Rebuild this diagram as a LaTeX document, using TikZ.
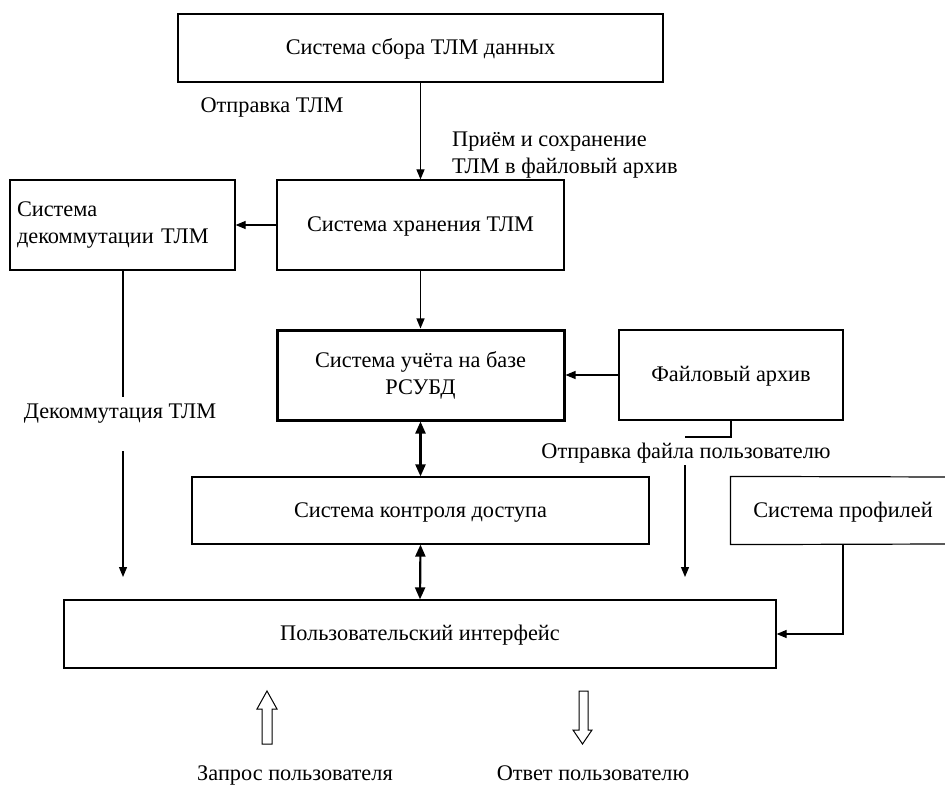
\documentclass[tikz,border=0pt]{standalone}
\usepackage{fontspec}
\setmainfont{Liberation Serif}
\usetikzlibrary{arrows.meta}
\begin{document}
\begin{tikzpicture}[x=1pt,y=-1pt,
  every node/.style={font=\fontsize{22.3}{27}\selectfont},
  box/.style={draw, line width=1.2pt, rectangle, inner sep=0pt, align=center, text height=16pt, text depth=2.2pt},
  multi/.style={text height=, text depth=},
  lbl/.style={inner sep=0pt, align=center, text height=16pt, text depth=2.2pt},
  conn/.style={line width=1.2pt, -{Triangle[length=10pt,width=8pt]}},
  plain/.style={line width=1.2pt},
  dbl/.style={line width=2.2pt, {Triangle[length=12pt,width=10pt]}-{Triangle[length=12pt,width=10pt]}},
  hollow/.style={draw, line width=1pt, fill=white}
]
\useasboundingbox (0,0) rectangle (945,786);

% boxes
\node[box, minimum width=485pt, minimum height=68pt] (sbor) at (420.5,48) {Система сбора ТЛМ данных};
\node[box, minimum width=287pt, minimum height=90pt] (hran) at (420.5,225) {Система хранения ТЛМ};
\node[box, multi, minimum width=225pt, minimum height=90pt, text width=211pt, align=left] (dekom) at (122.5,225) {Система\\декоммутации ТЛМ};
\node[box, multi, line width=3pt, minimum width=287pt, minimum height=90pt] (uchet) at (420.5,375) {Система учёта на базе\\РСУБД};
\node[box, minimum width=224pt, minimum height=90pt] (fayl) at (731,375) {Файловый архив};
\node[box, minimum width=457pt, minimum height=67pt] (kontrol) at (420.5,510.5) {Система контроля доступа};
\node[box, draw=none, minimum width=224pt, minimum height=67pt] (profil) at (843,510.5) {Система профилей};
\draw[plain] (945,477) -- (profil.north west) -- (profil.south west) -- (945,544);
\node[box, minimum width=712pt, minimum height=68pt] (interf) at (420,634) {Пользовательский интерфейс};

% labels
\node[lbl] (lotpr) at (272,106) {Отправка ТЛМ};
\node[lbl, multi, anchor=west, align=left] (lpriem) at (452,155) {Приём и сохранение\\ТЛМ в файловый архив};
\node[lbl] (ldekom) at (120,412) {Декоммутация ТЛМ};
\node[lbl] (lfayl) at (686,452) {Отправка файла пользователю};
\node[lbl] (lzapros) at (295,774) {Запрос пользователя};
\node[lbl] (lotvet) at (593,774) {Ответ пользователю};

% coordinates
\coordinate (c1) at (685,437);
\coordinate (c2) at (685,465);
\coordinate (c3) at (685,577);
\coordinate (d1) at (123,397);
\coordinate (d2) at (123,451);
\coordinate (d3) at (123,577);
\coordinate (p1) at (843,634);

% connectors
\draw[conn] (sbor.south) -- (hran.north);
\draw[conn] (hran.west) -- (dekom.east);
\draw[conn] (hran.south) -- (uchet.north);
\draw[conn] (fayl.west) -- (uchet.east);
\draw[plain] (fayl.south) |- (c1);
\draw[conn] (c2) -- (c3);
\draw[plain] (dekom.south -| d1) -- (d1);
\draw[conn] (d2) -- (d3);
\draw[dbl] (uchet.south) -- (kontrol.north);
\draw[dbl] (kontrol.south) -- (interf.north);
\draw[conn] (profil.south) -- (p1) -- (interf.east |- p1);

% hollow arrows
\draw[hollow] (262,744) -- (262,709) -- (257,709) -- (267,691) -- (277,709) -- (272,709) -- (272,744) -- cycle;
\draw[hollow] (579,691) -- (579,730) -- (573,730) -- (582.5,744) -- (592,730) -- (588,730) -- (588,691) -- cycle;
\end{tikzpicture}
\end{document}
